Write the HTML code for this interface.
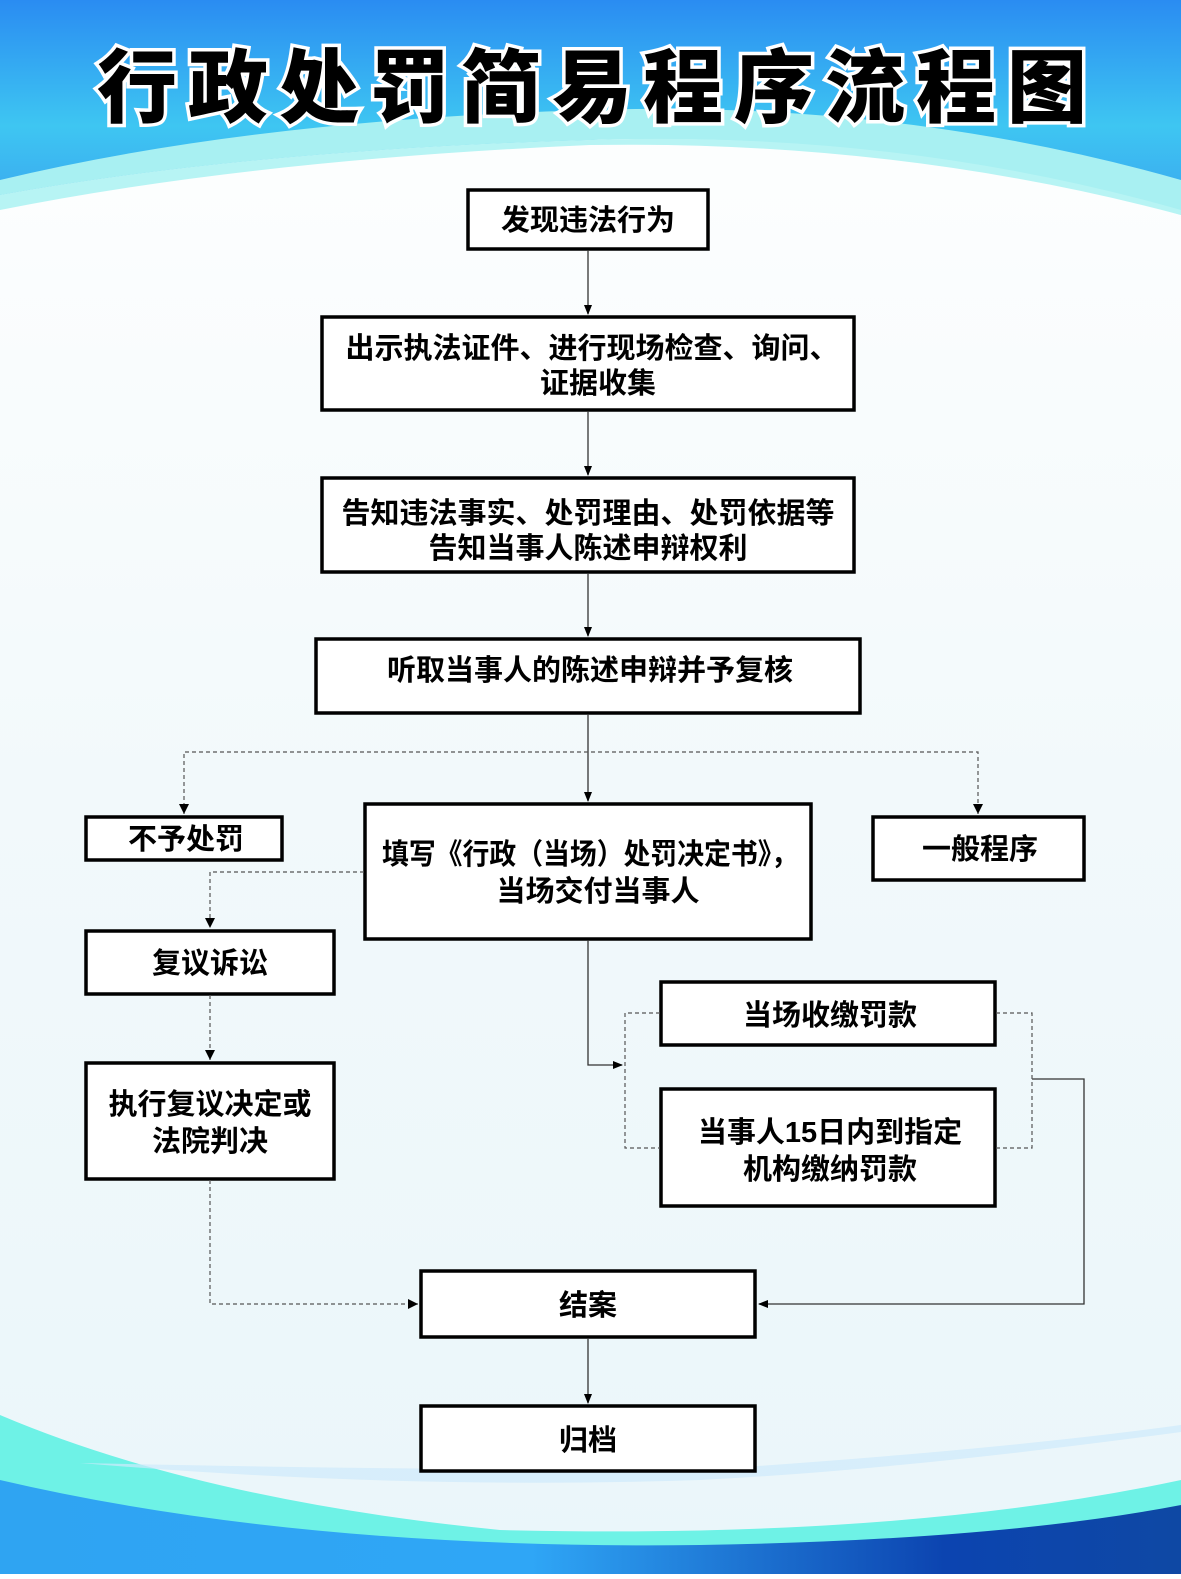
<!DOCTYPE html>
<html><head><meta charset="utf-8"><style>
html,body{margin:0;padding:0}
body{width:1181px;height:1574px;overflow:hidden}
svg text{font-family:"Liberation Sans","Noto Sans CJK SC",sans-serif;font-weight:bold}
</style></head><body>
<svg width="1181" height="1574" viewBox="0 0 1181 1574" xmlns="http://www.w3.org/2000/svg">
<defs>
<linearGradient id="bg" x1="0" y1="0" x2="0" y2="1">
<stop offset="0" stop-color="#ffffff"/><stop offset="0.5" stop-color="#f2f9fb"/><stop offset="1" stop-color="#eaf6fa"/>
</linearGradient>
<linearGradient id="top" x1="0" y1="0" x2="0" y2="1">
<stop offset="0" stop-color="#2a8cf2"/><stop offset="0.6" stop-color="#3ec6f2"/><stop offset="1" stop-color="#3aa6ef"/>
</linearGradient>
<linearGradient id="bot" x1="0" y1="0" x2="1" y2="0">
<stop offset="0" stop-color="#2fa4f2"/><stop offset="0.45" stop-color="#2fa6f6"/><stop offset="0.8" stop-color="#0c44b0"/><stop offset="1" stop-color="#0e48a4"/>
</linearGradient>
<marker id="ar" markerWidth="10" markerHeight="10" refX="9" refY="5" orient="auto" markerUnits="userSpaceOnUse"><path d="M0,1 L10,5 L0,9 z" fill="#000"/></marker>
</defs>
<rect width="1181" height="1574" fill="url(#bg)"/>
<path d="M0,0 H1181 V210 Q900,120 590,140 Q250,150 0,195 Z" fill="url(#top)"/>
<path d="M0,195 Q250,150 590,140 Q900,130 1181,215 V180 Q900,100 590,110 Q250,120 0,180 Z" fill="#a8f0f2"/>
<path d="M0,210 Q250,160 590,145 Q900,140 1181,215 L1181,210 Q900,130 590,140 Q250,150 0,195 Z" fill="#b7f4f4"/>
<path d="M0,1415 Q200,1500 500,1530 Q900,1540 1181,1480 V1574 H0 Z" fill="#6ef2e6"/>
<path d="M0,1480 Q300,1550 700,1545 Q1000,1540 1181,1505 V1574 H0 Z" fill="url(#bot)"/>
<path d="M80,1463 Q400,1470 700,1470 Q1000,1450 1181,1425 L1181,1432 Q900,1470 700,1480 Q400,1490 80,1463 Z" fill="#cfe9fb" opacity="0.7"/>
<text x="97" y="116" font-size="80" textLength="990" lengthAdjust="spacing" stroke="#fff" stroke-width="7" paint-order="stroke" fill="#000" style="font-weight:900">行政处罚简易程序流程图</text>
<g fill="#fff" stroke="#000" stroke-width="3.5">
<rect x="468" y="190" width="240" height="59"/>
<rect x="322" y="317" width="532" height="93"/>
<rect x="322" y="478" width="532" height="94"/>
<rect x="316" y="639" width="544" height="74"/>
<rect x="86" y="817" width="196" height="43"/>
<rect x="365" y="804" width="446" height="135"/>
<rect x="873" y="817" width="211" height="63"/>
<rect x="86" y="931" width="248" height="63"/>
<rect x="86" y="1063" width="248" height="116"/>
<rect x="661" y="982" width="334" height="63"/>
<rect x="661" y="1089" width="334" height="117"/>
<rect x="421" y="1271" width="334" height="66"/>
<rect x="421" y="1406" width="334" height="65"/>
</g>
<g stroke="#333" stroke-width="1.3" fill="none">
<line x1="588" y1="250" x2="588" y2="314" marker-end="url(#ar)"/>
<line x1="588" y1="411" x2="588" y2="475" marker-end="url(#ar)"/>
<line x1="588" y1="573" x2="588" y2="636" marker-end="url(#ar)"/>
<line x1="588" y1="714" x2="588" y2="801" marker-end="url(#ar)"/>
<polyline points="588,940 588,1065 622,1065" marker-end="url(#ar)"/>
<polyline points="1032,1079 1084,1079 1084,1304 759,1304" marker-end="url(#ar)"/>
<line x1="588" y1="1338" x2="588" y2="1403" marker-end="url(#ar)"/>
</g>
<g stroke="#555" stroke-width="1.2" fill="none" stroke-dasharray="4,3">
<polyline points="184,814 184,752 978,752 978,814"/>
<polyline points="364,872 210,872 210,928"/>
<line x1="210" y1="995" x2="210" y2="1060"/>
<polyline points="210,1180 210,1304 418,1304"/>
<polyline points="660,1013 625,1013 625,1148 660,1148"/>
<polyline points="996,1013 1032,1013 1032,1148 996,1148"/>
</g>
<g fill="#000">
<path d="M179,804 L189,804 L184,814 z"/><path d="M973,804 L983,804 L978,814 z"/>
<path d="M205,918 L215,918 L210,928 z"/><path d="M205,1050 L215,1050 L210,1060 z"/>
<path d="M408,1299 L418,1304 L408,1309 z"/>
</g>
<g font-size="29" text-anchor="middle" fill="#000">
<text x="588" y="230">发现违法行为</text>
<text x="592" y="358">出示执法证件、进行现场检查、询问、</text>
<text x="598" y="393">证据收集</text>
<text x="588" y="523">告知违法事实、处罚理由、处罚依据等</text>
<text x="588" y="558">告知当事人陈述申辩权利</text>
<text x="590" y="680">听取当事人的陈述申辩并予复核</text>
<text x="186" y="849">不予处罚</text>
<text x="382" y="864" text-anchor="start" textLength="416" lengthAdjust="spacingAndGlyphs">填写《行政（当场）处罚决定书》，</text>
<text x="598" y="901">当场交付当事人</text>
<text x="980" y="859">一般程序</text>
<text x="210" y="973">复议诉讼</text>
<text x="210" y="1114">执行复议决定或</text>
<text x="210" y="1151">法院判决</text>
<text x="830" y="1025">当场收缴罚款</text>
<text x="830" y="1142">当事人15日内到指定</text>
<text x="830" y="1179">机构缴纳罚款</text>
<text x="588" y="1315">结案</text>
<text x="588" y="1450">归档</text>
</g>
</svg>
</body></html>
